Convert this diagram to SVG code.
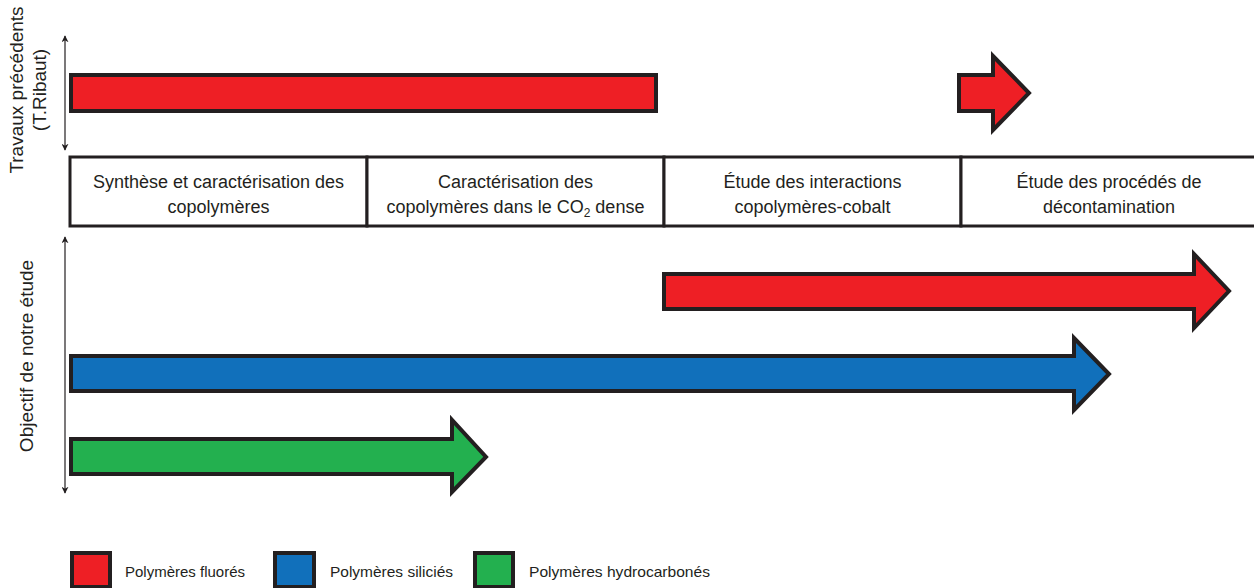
<svg xmlns="http://www.w3.org/2000/svg" width="1254" height="588" viewBox="0 0 1254 588">
<defs>
<style>
.shape{stroke:#231f20;stroke-width:4;stroke-linejoin:miter}
.red{fill:#ee1f25}
.blue{fill:#1170bb}
.green{fill:#23b04f}
.cell{fill:#fff;stroke:#231f20;stroke-width:3}
.t{font-family:"Liberation Sans",Arial,sans-serif;font-size:18px;fill:#231f20;text-anchor:middle}
.lab{font-family:"Liberation Sans",Arial,sans-serif;font-size:19px;fill:#231f20;text-anchor:middle}
.leg{font-family:"Liberation Sans",Arial,sans-serif;font-size:15px;fill:#231f20}
.axis{stroke:#231f20;stroke-width:1.2;fill:none}
</style>
<marker id="ah" viewBox="0 0 10 10" refX="9" refY="5" markerWidth="7" markerHeight="7" orient="auto-start-reverse" markerUnits="userSpaceOnUse">
<path d="M0,0 L10,5 L0,10 L3,5 Z" fill="#231f20"/>
</marker>
</defs>
<rect width="1254" height="588" fill="#fff"/>

<g id="labels">
<text class="lab" transform="translate(23,90) rotate(-90)">Travaux précédents</text>
<text class="lab" transform="translate(46,90) rotate(-90)">(T.Ribaut)</text>
<text class="lab" transform="translate(33,356) rotate(-90)">Objectif de notre étude</text>
</g>

<g id="connectors">
<line class="axis" x1="65" y1="36" x2="65" y2="150" marker-start="url(#ah)" marker-end="url(#ah)"/>
<line class="axis" x1="65" y1="237" x2="65" y2="493" marker-start="url(#ah)" marker-end="url(#ah)"/>
</g>

<g id="timeline">
<g id="cell1"><rect class="cell" x="70" y="157" width="297" height="69"/>
<text class="t" x="218.5" y="188">Synthèse et caractérisation des</text>
<text class="t" x="218.5" y="213">copolymères</text></g>
<g id="cell2"><rect class="cell" x="367" y="157" width="297" height="69"/>
<text class="t" x="515.5" y="188">Caractérisation des</text>
<text class="t" x="515.5" y="213">copolymères dans le CO<tspan font-size="12" dy="4">2</tspan><tspan dy="-4"> dense</tspan></text></g>
<g id="cell3"><rect class="cell" x="664" y="157" width="297" height="69"/>
<text class="t" x="812.5" y="188">Étude des interactions</text>
<text class="t" x="812.5" y="213">copolymères-cobalt</text></g>
<g id="cell4"><rect class="cell" x="961" y="157" width="300" height="69"/>
<text class="t" x="1109" y="188">Étude des procédés de</text>
<text class="t" x="1109" y="213">décontamination</text></g>
</g>

<g id="bar-previous"><rect class="shape red" x="71" y="75" width="585" height="36"/></g>
<g id="arrow-previous"><path class="shape red" d="M959,75 H993 V56 L1029,93 L993,130 V111 H959 Z"/></g>
<g id="arrow-fluores"><path class="shape red" d="M664,274 H1194 V254 L1229,291 L1194,328 V309 H664 Z"/></g>
<g id="arrow-silicies"><path class="shape blue" d="M71,356 H1074 V338 L1109,374 L1074,410 V391 H71 Z"/></g>
<g id="arrow-hydro"><path class="shape green" d="M71,439 H452 V420 L486,457 L452,492 V474 H71 Z"/></g>

<g id="legend">
<g id="leg1"><rect class="shape red" x="72" y="553" width="38" height="34"/><text class="leg" x="125" y="577" textLength="120" lengthAdjust="spacingAndGlyphs">Polymères fluorés</text></g>
<g id="leg2"><rect class="shape blue" x="275" y="553" width="39" height="34"/><text class="leg" x="330" y="577" textLength="123" lengthAdjust="spacingAndGlyphs">Polymères siliciés</text></g>
<g id="leg3"><rect class="shape green" x="475" y="553" width="38" height="34"/><text class="leg" x="529" y="577" textLength="181" lengthAdjust="spacingAndGlyphs">Polymères hydrocarbonés</text></g>
</g>
</svg>
